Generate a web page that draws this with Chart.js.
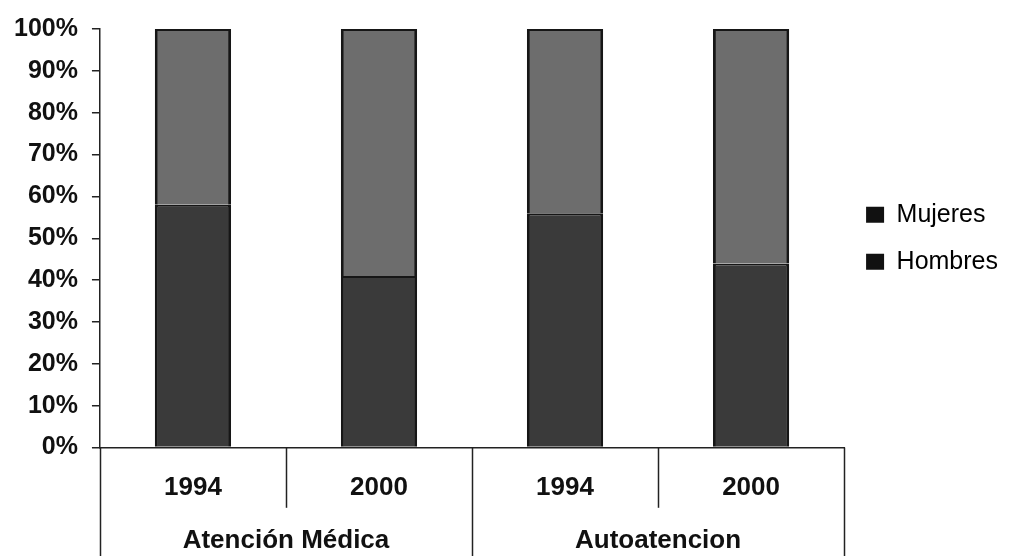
<html>
<head>
<meta charset="utf-8">
<script src="https://cdn.jsdelivr.net/npm/chart.js@4.4.0/dist/chart.umd.min.js"></script>
<style>
body { margin:0; background:#fff; }
#wrap { width:1018px; height:556px; }
</style>
</head>
<body>
<div id="wrap"><canvas id="bar-chart"></canvas></div>
<script>
// categories / groups
var years = ['1994', '2000', '1994', '2000'];
var groups = ['Atención Médica', 'Autoatencion'];
// percent values
var hombres = [58, 41, 56, 44];
var mujeres = [42, 59, 44, 56];
var yTicks = [0, 10, 20, 30, 40, 50, 60, 70, 80, 90, 100];

var fontFam = '"Liberation Sans", Arial, sans-serif';

// vertical separators under the x axis, taken from the category scale
var separators = {
	id: 'separators',
	afterDraw: function(chart) {
		var x = chart.scales.x, x2 = chart.scales.x2;
		var ctx = chart.ctx;
		ctx.save();
		ctx.strokeStyle = '#222';
		ctx.lineWidth = 1.5;
		for (var b = 0; b <= years.length; b++) {
			var px = Math.round(x.getPixelForValue(b - 0.5)) + 0.5;
			var bottom = (b % 2 == 0) ? x2.bottom : x.bottom;
			ctx.beginPath();
			ctx.moveTo(px, x.top);
			ctx.lineTo(px, bottom);
			ctx.stroke();
		}
		ctx.restore();
	}
};

var mainChart = document.getElementById('bar-chart').getContext('2d');
var barChart = new Chart(mainChart, {
	type: 'bar',
	data: {
		labels: years,
		datasets: [{
			label: 'Hombres',
			data: hombres,
			backgroundColor: '#3a3a3a',
			borderColor: '#161616',
			borderWidth: {left: 3, right: 3, top: 2, bottom: 0},
			borderSkipped: false,
			categoryPercentage: 1,
			barPercentage: 0.41
		}, {
			label: 'Mujeres',
			data: mujeres,
			backgroundColor: '#6d6d6d',
			borderColor: '#161616',
			borderWidth: {left: 3, right: 3, top: 2, bottom: 0},
			borderSkipped: false,
			categoryPercentage: 1,
			barPercentage: 0.41
		}]
	},
	options: {
		responsive: true,
		maintainAspectRatio: false,
		animation: false,
		layout: { padding: { top: 10, left: 0, right: 10, bottom: 0 } },
		scales: {
			x: {
				stacked: true,
				grid: { display: true, drawOnChartArea: false, drawTicks: true, tickLength: 21, color: 'rgba(0,0,0,0)' },
				border: { display: true, color: '#222', width: 1.5 },
				ticks: { padding: 4, color: '#111', font: { family: fontFam, size: 26, weight: 'bold' } }
			},
			x2: {
				type: 'category',
				labels: groups,
				position: 'bottom',
				offset: true,
				grid: { display: true, drawOnChartArea: false, drawTicks: true, tickLength: 17, color: 'rgba(0,0,0,0)' },
				border: { display: false },
				ticks: { padding: 0, color: '#111', font: { family: fontFam, size: 26, weight: 'bold' } }
			},
			y: {
				stacked: true,
				min: 0,
				max: 100,
				afterBuildTicks: function(axis) {
					axis.ticks = yTicks.map(function(v) { return {value: v}; });
				},
				grid: { drawOnChartArea: false, drawTicks: true, tickLength: 8, color: '#222', lineWidth: 1.5 },
				border: { display: true, color: '#222', width: 1.5 },
				ticks: {
					padding: 14,
					color: '#111',
					font: { family: fontFam, size: 25, weight: 'bold' },
					callback: function(v) { return v + '%'; }
				}
			}
		},
		plugins: {
			tooltip: { enabled: false },
			legend: {
				position: 'right',
				fullSize: false,
				reverse: true,
				labels: {
					boxWidth: 18,
					boxHeight: 16,
					padding: 22,
					color: '#111',
					font: { family: fontFam, size: 25 },
					generateLabels: function(chart) {
						return chart.data.datasets.map(function(ds, i) {
							return { text: ds.label, fillStyle: '#111', strokeStyle: '#111', lineWidth: 0, datasetIndex: i, hidden: false };
						});
					}
				}
			}
		}
	},
	plugins: [separators]
});
</script>
</body>
</html>
